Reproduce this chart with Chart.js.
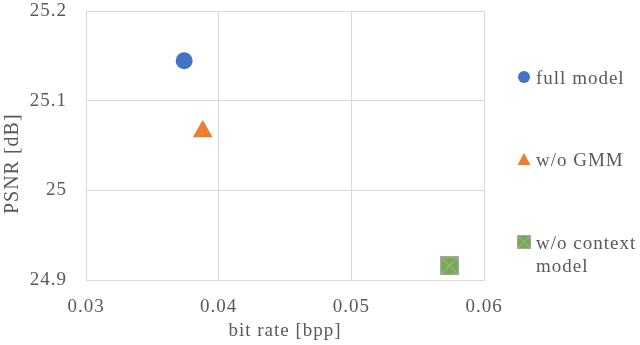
<!DOCTYPE html>
<html>
<head>
<meta charset="utf-8">
<script src="https://cdn.jsdelivr.net/npm/chart.js@4.4.1/dist/chart.umd.min.js"></script>
<style>
    body { margin: 0; background: #fff; }
    #wrap { position: relative; width: 640px; height: 345px; }
    #legend { position: absolute; left: 0; top: 0; font-family: "Liberation Serif", serif; font-size: 19px; color: #595959; letter-spacing: 1px; }
    .item { position: absolute; left: 517px; white-space: nowrap; line-height: 23px; }
    .item svg { position: absolute; left: 0; top: 4px; }
    .item span { position: absolute; left: 19px; top: 0; }
</style>
</head>
<body>
<div id="wrap">
    <canvas id="chart" width="640" height="345"></canvas>
    <div id="legend"></div>
</div>
<script>
// data
const seriesNames = ['full model', 'w/o GMM', 'w/o context model'];
const bitRates = [0.0374, 0.0388, 0.0574];
const psnrValues = [25.145, 25.066, 24.916];
const seriesColors = ['#4472C4', '#ED7D31', '#70AD47'];
const xTicks = [0.03, 0.04, 0.05, 0.06];
const yTicks = [24.9, 25, 25.1, 25.2];

const textColor = '#595959';
const font = { family: "'Liberation Serif', 'Times New Roman', serif", size: 19 };

// green square with grey cross, like the excel marker
function crossSquare(size) {
    const c = document.createElement('canvas');
    c.width = size; c.height = size;
    const g = c.getContext('2d');
    g.fillStyle = seriesColors[2];
    g.fillRect(0, 0, size, size);
    g.strokeStyle = '#A5A5A5';
    g.lineWidth = 1.5;
    g.strokeRect(0.75, 0.75, size - 1.5, size - 1.5);
    g.beginPath();
    g.moveTo(1, 1); g.lineTo(size - 1, size - 1);
    g.moveTo(size - 1, 1); g.lineTo(1, size - 1);
    g.stroke();
    return c;
}

const pointStyles = ['circle', 'triangle', crossSquare(19)];
const pointRadii = [8.5, 11.5, 9.5];

const datasets = seriesNames.map((name, i) => ({
    label: name,
    data: [{ x: bitRates[i], y: psnrValues[i] }],
    pointStyle: pointStyles[i],
    pointRadius: pointRadii[i],
    pointHoverRadius: pointRadii[i],
    backgroundColor: seriesColors[i],
    borderColor: seriesColors[i],
    borderWidth: 0
}));

// wider letter spacing, the original text is spread out a bit
const spacing = {
    id: 'spacing',
    beforeLayout(chart) { chart.ctx.letterSpacing = '1px'; },
    beforeDraw(chart) { chart.ctx.letterSpacing = '1px'; }
};

new Chart(document.getElementById('chart').getContext('2d'), {
    type: 'scatter',
    data: { datasets: datasets },
    plugins: [spacing],
    options: {
        responsive: false,
        animation: false,
        layout: { padding: { top: 11, right: 156, left: 0, bottom: 0 } },
        plugins: { legend: { display: false }, tooltip: { enabled: false } },
        scales: {
            x: {
                min: 0.03, max: 0.06,
                afterBuildTicks: (scale) => { scale.ticks = xTicks.map(v => ({ value: v })); },
                afterFit: (scale) => { scale.height = 65; },
                ticks: { color: textColor, font: font, padding: 16, callback: (v) => v.toFixed(2) },
                grid: { color: '#D9D9D9', drawTicks: false },
                border: { color: '#D9D9D9' },
                title: { display: true, text: 'bit rate [bpp]', color: textColor, font: font, padding: { top: 0, bottom: 3 } }
            },
            y: {
                min: 24.9, max: 25.2,
                afterBuildTicks: (scale) => { scale.ticks = yTicks.map(v => ({ value: v })); },
                afterFit: (scale) => {
                    scale.width = 86;
                    // tick padding would otherwise push the plot down
                    scale.paddingTop = 0;
                    scale.paddingBottom = 0;
                },
                ticks: { color: textColor, font: font, padding: 19, callback: (v) => String(Math.round(v * 10) / 10) },
                grid: { color: '#D9D9D9', drawTicks: false },
                border: { color: '#D9D9D9' },
                // trailing spaces nudge the title a little below the middle, like the original
                title: { display: true, text: 'PSNR [dB]\u00a0\u00a0\u00a0\u00a0\u00a0\u00a0', color: textColor,
                    font: { family: font.family, size: 20 }, padding: { top: 1, bottom: 0 } }
            }
        }
    }
});

// legend on the right, spaced like the original
const legendTops = [66, 148, 231];
const legend = document.getElementById('legend');
seriesNames.forEach((name, i) => {
    const item = document.createElement('div');
    item.className = 'item';
    item.style.top = legendTops[i] + 'px';
    let marker;
    if (i === 0) {
        marker = '<svg width="14" height="14"><circle cx="7" cy="7" r="6" fill="' + seriesColors[0] + '"/></svg>';
    } else if (i === 1) {
        marker = '<svg width="14" height="14"><polygon points="7,1 13.5,13 0.5,13" fill="' + seriesColors[1] + '"/></svg>';
    } else {
        marker = '<svg width="14" height="14"><rect x="0.5" y="0.5" width="13" height="13" fill="' + seriesColors[2] + '" stroke="#A5A5A5"/>' +
            '<path d="M1 1 L13 13 M13 1 L1 13" stroke="#A5A5A5" stroke-width="1.2"/></svg>';
    }
    const text = i === 2 ? 'w/o context<br>model' : name;
    item.innerHTML = marker + '<span>' + text + '</span>';
    legend.appendChild(item);
});
</script>
</body>
</html>
